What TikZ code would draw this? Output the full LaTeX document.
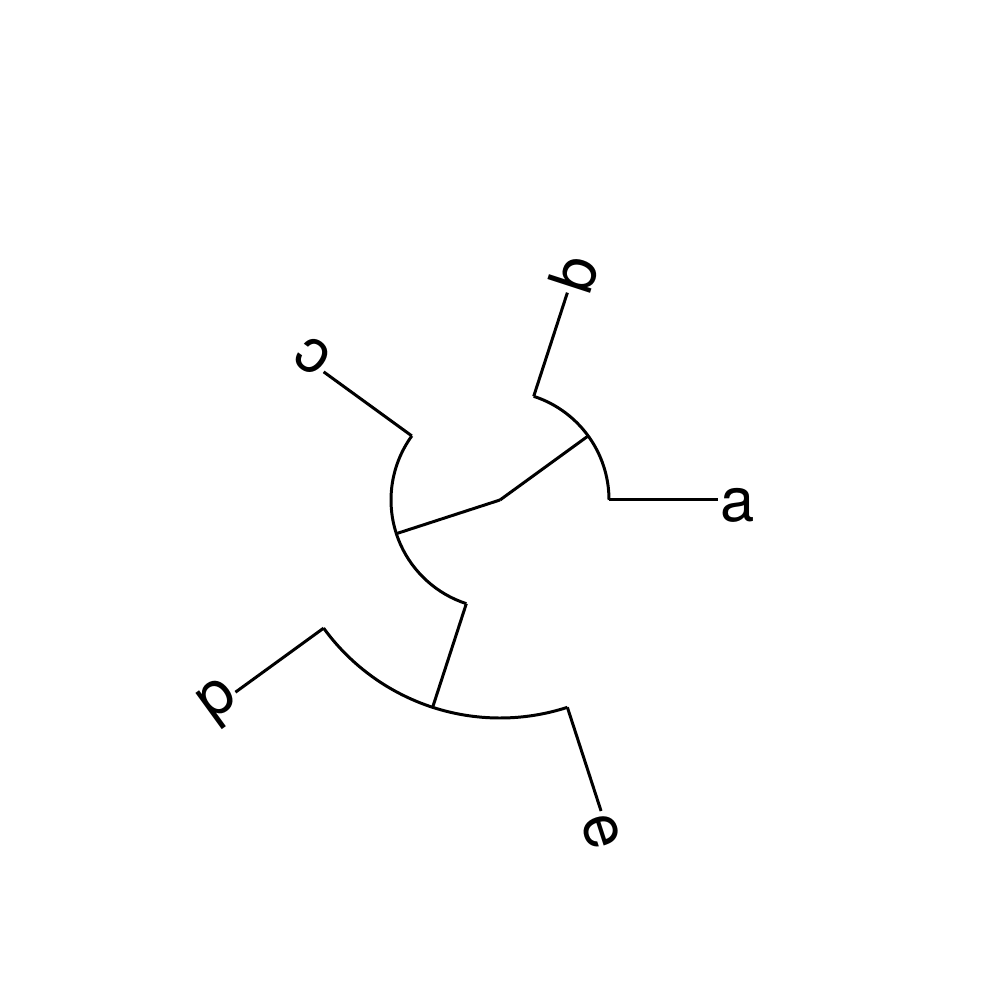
\documentclass[tikz,border=0pt]{standalone}
\usepackage{fontspec}
\setmainfont{TeX Gyre Heros}
\begin{document}
\begin{tikzpicture}[
  edge/.style={line width=0.85pt, black},
  leaflabel/.style={anchor=base west, inner sep=0pt, font=\fontsize{17.5}{20}\selectfont}
]
\useasboundingbox (0,0) rectangle (10,10);
\begin{scope}[shift={(5,5)}]
  % internal nodes
  \coordinate (root) at (0,0);
  \coordinate (n1) at (36:1.09);
  \coordinate (n2) at (198:1.09);
  \coordinate (n3in) at (252:1.09);
  \coordinate (n3) at (252:2.18);
  % arc ends
  \coordinate (a0) at (0:1.09);
  \coordinate (b0) at (72:1.09);
  \coordinate (c0) at (144:1.09);
  \coordinate (d0) at (216:2.18);
  \coordinate (e0) at (288:2.18);
  % leaf ends
  \coordinate (a1) at (0:2.18);
  \coordinate (b1) at (72:2.18);
  \coordinate (c1) at (144:2.18);
  \coordinate (d1) at (216:3.27);
  \coordinate (e1) at (288:3.27);
  % branches
  \draw[edge] (root) -- (n1);
  \draw[edge] (a0) arc[start angle=0, end angle=72, radius=1.09];
  \draw[edge] (a0) -- (a1);
  \draw[edge] (b0) -- (b1);
  \draw[edge] (root) -- (n2);
  \draw[edge] (c0) arc[start angle=144, end angle=252, radius=1.09];
  \draw[edge] (c0) -- (c1);
  \draw[edge] (n3in) -- (n3);
  \draw[edge] (d0) arc[start angle=216, end angle=288, radius=2.18];
  \draw[edge] (d0) -- (d1);
  \draw[edge] (e0) -- (e1);
  % labels
  \begin{scope}[rotate=0]\node[leaflabel, rotate=0] (la) at (2.20,-0.22) {a};\end{scope}
  \begin{scope}[rotate=72]\node[leaflabel, rotate=72] (lb) at (2.20,-0.22) {b};\end{scope}
  \begin{scope}[rotate=144]\node[leaflabel, rotate=144] (lc) at (2.20,-0.22) {c};\end{scope}
  \begin{scope}[rotate=216]\node[leaflabel, rotate=216] (ld) at (3.29,-0.22) {d};\end{scope}
  \begin{scope}[rotate=288]\node[leaflabel, rotate=288] (le) at (3.29,-0.22) {e};\end{scope}
\end{scope}
\end{tikzpicture}
\end{document}
